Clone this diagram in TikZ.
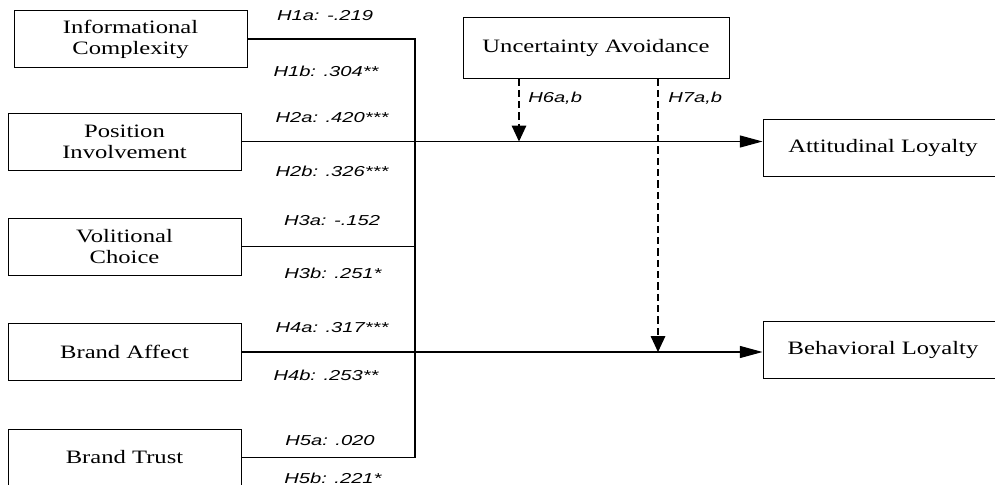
\documentclass[tikz,border=0pt]{standalone}
\usepackage{fontspec}
\newfontfamily\boxfont[FakeStretch=1.3]{Liberation Serif}
\newfontfamily\hypfont[FakeStretch=1.4]{Liberation Sans}
\usetikzlibrary{positioning,arrows.meta}
\tikzset{
  varbox/.style={draw, line width=0.7pt, minimum width=174.75pt, minimum height=42.75pt, align=center, inner sep=0pt, font=\boxfont\fontsize{14.2}{15.75}\selectfont},
  modbox/.style={varbox, minimum width=199.5pt, minimum height=45.75pt},
  outbox/.style={varbox, minimum width=180pt},
  pathline/.style={line width=0.85pt},
  patharrow/.style={-{Triangle[length=17pt, width=9pt]}, line width=0.85pt},
  modarrow/.style={-{Triangle[length=12pt, width=11pt]}, line width=0.85pt, dash pattern=on 5.5pt off 3pt},
  hyplabel/.style={font=\hypfont\itshape\fontsize{10.8}{12}\selectfont, inner sep=0pt}
}

\begin{document}
\begin{tikzpicture}[x=0.75pt, y=-0.75pt]
  \useasboundingbox (0,0) rectangle (995,485);
  \clip (0,0) rectangle (995,485);
  % antecedents
  \node[varbox] (info) at (130.5,39) {Informational\\Complexity};
  \node[varbox] (pos) at (124.5,141.5) {Position\\Involvement};
  \node[varbox] (vol) at (124.5,246.5) {Volitional\\Choice};
  \node[varbox] (affect) at (124.5,352) {Brand Affect};
  \node[varbox] (trust) at (124.5,457.5) {Brand Trust};
  % moderator and outcomes
  \node[modbox] (ua) at (596,47.5) {Uncertainty Avoidance};
  \node[outbox] (att) at (883,147.5) {Attitudinal Loyalty};
  \node[outbox] (beh) at (883,350) {Behavioral Loyalty};
  \coordinate (bus) at (415,0);
  \coordinate (m6) at (519,0);
  \coordinate (m7) at (658,0);

  % paths
  \draw[pathline] (info.east) -- (info.east -| bus) -- (trust.east -| bus) -- (trust.east);
  \draw[pathline] (vol.east) -- (vol.east -| bus);
  \draw[patharrow] (pos.east) -- (pos.east -| att.west);
  \draw[patharrow] (affect.east) -- (affect.east -| beh.west);
  \draw[modarrow] (ua.south -| m6) -- (m6 |- pos.east);
  \draw[modarrow] (ua.south -| m7) -- (m7 |- affect.east);

  % coefficients
  \node[hyplabel] (h1a) at (325,16) {H1a: -.219};
  \node[hyplabel] (h1b) at (326,71) {H1b: .304**};
  \node[hyplabel] (h2a) at (332,118) {H2a: .420***};
  \node[hyplabel] (h2b) at (332,171) {H2b: .326***};
  \node[hyplabel] (h3a) at (332,221) {H3a: -.152};
  \node[hyplabel] (h3b) at (333,273) {H3b: .251*};
  \node[hyplabel] (h4a) at (332,328) {H4a: .317***};
  \node[hyplabel] (h4b) at (326,375) {H4b: .253**};
  \node[hyplabel] (h5a) at (330,441) {H5a: .020};
  \node[hyplabel] (h5b) at (333,478) {H5b: .221*};
  \node[hyplabel, anchor=west] (h6) at (528,98) {H6a,b};
  \node[hyplabel, anchor=west] (h7) at (668,98) {H7a,b};
\end{tikzpicture}
\end{document}
